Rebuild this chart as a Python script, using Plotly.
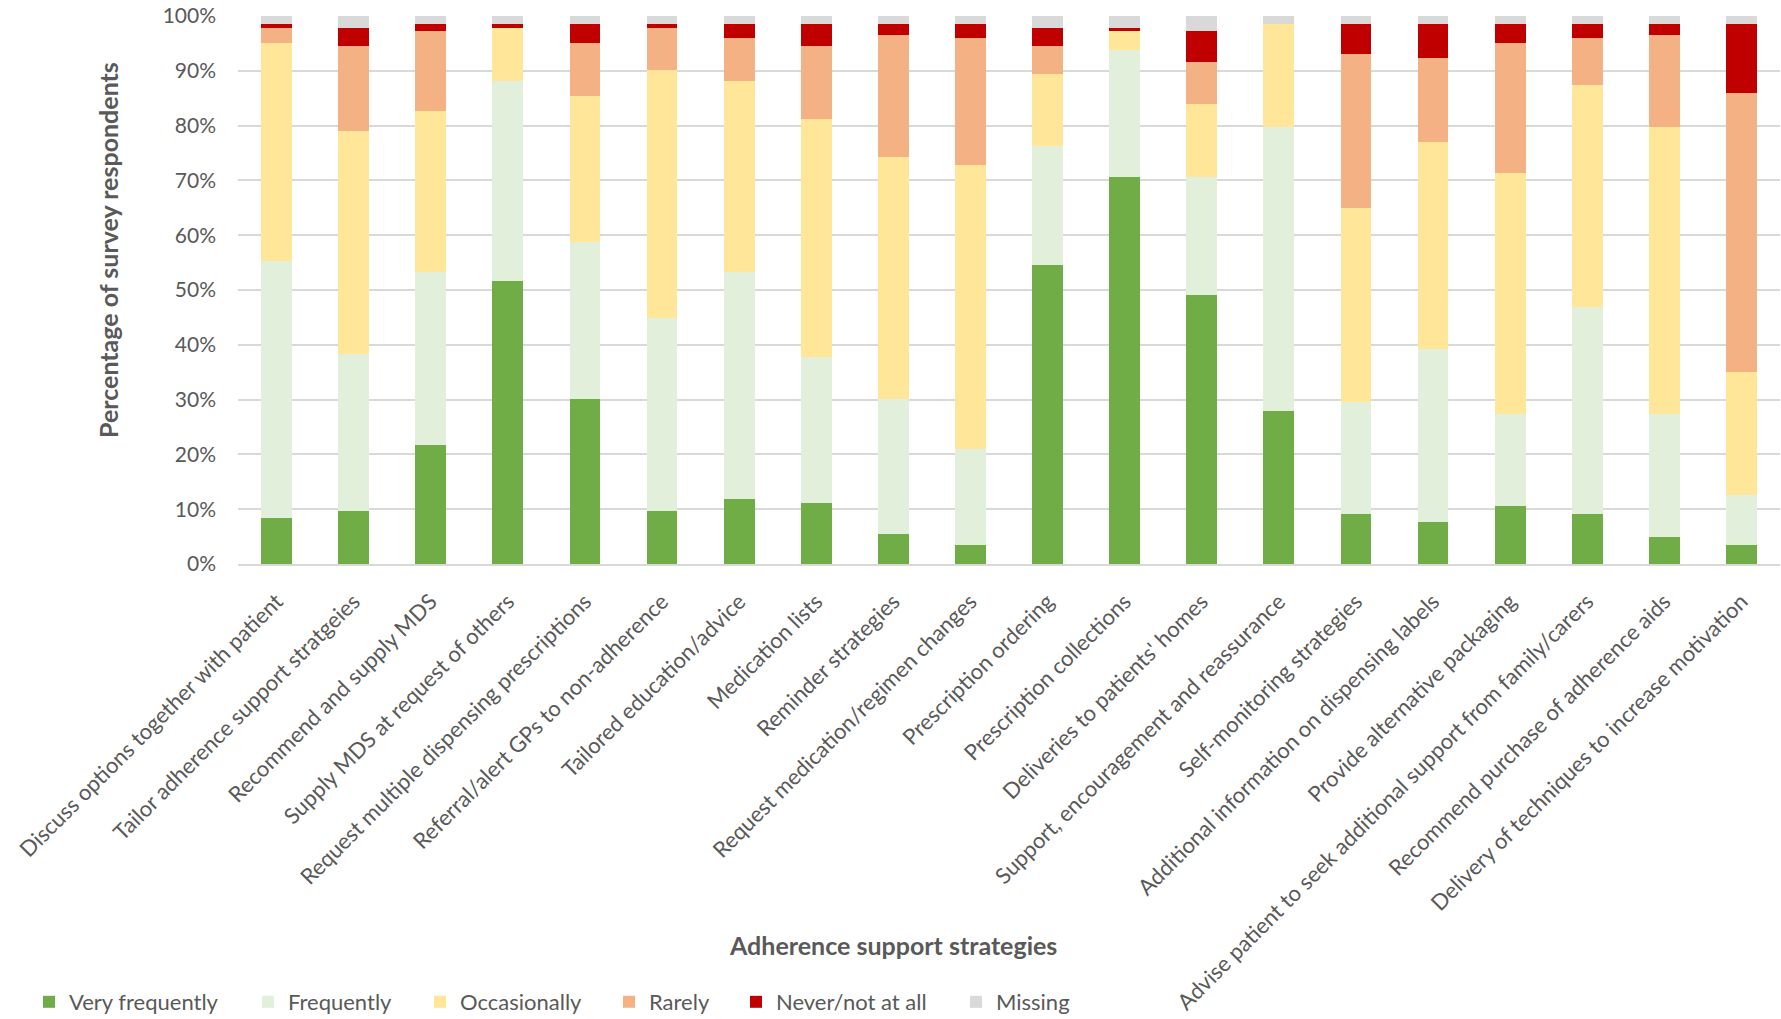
import plotly.graph_objects as go

# Survey responses: share of respondents (%) per adherence support strategy
strategies = [
    "Discuss options together with patient",
    "Tailor adherence support stratgeies",
    "Recommend and supply MDS",
    "Supply MDS at request of others",
    "Request multiple dispensing prescriptions",
    "Referral/alert GPs to non-adherence",
    "Tailored education/advice",
    "Medication lists",
    "Reminder strategies",
    "Request medication/regimen changes",
    "Prescription ordering",
    "Prescription collections",
    "Deliveries to patients' homes",
    "Support, encouragement and reassurance",
    "Self-monitoring strategies",
    "Additional information on dispensing labels",
    "Provide alternative packaging",
    "Advise patient to seek additional support from family/carers",
    "Recommend purchase of adherence aids",
    "Delivery of techniques to increase motivation",
]

very_frequently = [8.4, 9.7, 21.7, 51.7, 30.1, 9.7, 11.8, 11.1, 5.5, 3.4,
                   54.6, 70.6, 49.0, 28.0, 9.1, 7.7, 10.5, 9.1, 4.9, 3.4]
frequently = [46.9, 28.7, 31.5, 36.5, 28.6, 35.2, 41.4, 26.6, 24.6, 17.5,
              21.7, 23.2, 21.6, 51.8, 20.4, 31.6, 16.8, 37.8, 22.4, 9.2]
occasionally = [39.8, 40.7, 29.4, 9.7, 26.7, 45.3, 35.0, 43.5, 44.1, 51.9,
                13.2, 3.4, 13.4, 18.8, 35.5, 37.7, 44.1, 40.6, 52.4, 22.4]
rarely = [2.8, 15.4, 14.6, 0.0, 9.7, 7.7, 7.7, 13.3, 22.4, 23.1,
          5.0, 0.0, 7.6, 0.0, 28.0, 15.3, 23.7, 8.4, 16.9, 51.0]
never = [0.7, 3.4, 1.4, 0.7, 3.5, 0.7, 2.7, 4.1, 2.0, 2.7,
         3.4, 0.7, 5.6, 0.0, 5.6, 6.3, 3.5, 2.7, 2.0, 12.6]
missing = [1.4, 2.1, 1.4, 1.4, 1.4, 1.4, 1.4, 1.4, 1.4, 1.4,
           2.1, 2.1, 2.8, 1.4, 1.4, 1.4, 1.4, 1.4, 1.4, 1.4]

series_names = ["Very frequently", "Frequently", "Occasionally", "Rarely",
                "Never/not at all", "Missing"]
series_values = [very_frequently, frequently, occasionally, rarely, never, missing]
series_colors = ["#70AD47", "#E2EFDA", "#FFE699", "#F4B183", "#C00000", "#D9D9D9"]

# y-axis tick values (percent)
y_ticks = list(range(0, 101, 10))

FONT = "Lato, Carlito, Calibri, sans-serif"
GREY = "#595959"

W, H = 1781, 1019
M_L, M_R, M_T, M_B = 238, 1, 16, 455
PW = W - M_L - M_R
PH = H - M_T - M_B


def px_x(x):
    return (x - M_L) / PW


def px_y(y):
    return (H - M_B - y) / PH


# each legend entry gets its own legend box so the spacing follows the text
legend_marker_x = [52, 271, 443, 632, 759, 979]
legend_ids = ["legend", "legend2", "legend3", "legend4", "legend5", "legend6"]

fig = go.Figure()
for name, vals, col, lid in zip(series_names, series_values, series_colors, legend_ids):
    fig.add_trace(go.Bar(
        x=strategies, y=vals, name=name,
        marker=dict(color=col, line=dict(width=0)),
        legend=lid,
    ))

legend_layout = {}
for lid, mx in zip(legend_ids, legend_marker_x):
    legend_layout[lid] = dict(
        x=px_x(mx - 23), y=px_y(1002),
        xanchor="left", yanchor="middle",
        orientation="h",
        font=dict(family=FONT, size=22, color=GREY),
        bgcolor="rgba(0,0,0,0)",
        itemclick=False,
    )

fig.update_layout(
    width=W, height=H,
    margin=dict(l=M_L, r=M_R, t=M_T, b=M_B, autoexpand=False),
    barmode="stack",
    bargap=0.6,
    plot_bgcolor="white",
    paper_bgcolor="white",
    font=dict(family=FONT, size=20, color=GREY),
    showlegend=True,
    **legend_layout,
    xaxis=dict(
        tickangle=-45,
        tickfont=dict(family=FONT, size=22, color=GREY),
        showgrid=False,
        showline=True, linecolor="#D9D9D9", linewidth=2,
        ticks="",
        automargin=False,
        ticklabelstandoff=14,
    ),
    yaxis=dict(
        range=[0, 100],
        tickvals=y_ticks,
        ticktext=[f"{v}%" for v in y_ticks],
        tickfont=dict(family=FONT, size=21, color=GREY),
        showgrid=True, gridcolor="#D9D9D9", gridwidth=1.5,
        zeroline=False,
        showline=False,
        ticks="",
        automargin=False,
        ticklabelstandoff=21,
    ),
    annotations=[
        dict(text="<b>Percentage of survey respondents</b>",
             xref="paper", yref="paper", x=px_x(108), y=px_y(250),
             textangle=-90, showarrow=False,
             font=dict(family=FONT, size=25, color=GREY),
             xanchor="center", yanchor="middle"),
        dict(text="<b>Adherence support strategies</b>",
             xref="paper", yref="paper", x=px_x(893), y=px_y(945),
             showarrow=False,
             font=dict(family=FONT, size=25, color=GREY),
             xanchor="center", yanchor="middle"),
    ],
)

fig.write_html("out.html")
